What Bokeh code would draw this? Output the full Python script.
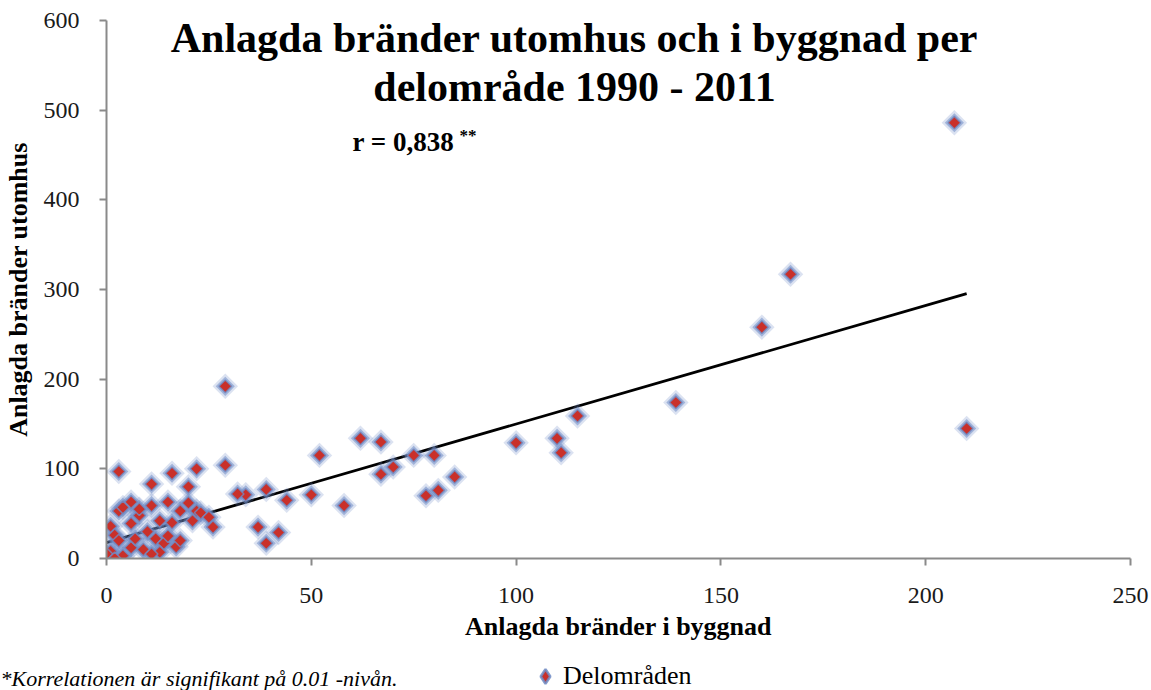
import numpy as np
from bokeh.plotting import figure
from bokeh.layouts import column
from bokeh.models import Range1d, Label, Legend, LegendItem, FixedTicker, Plot
from bokeh.embed import file_html
from bokeh.resources import INLINE

# ---------------- data ----------------
x_building = [207, 210, 167, 160, 139, 115, 100, 110, 111, 85,
              80, 81, 78, 75, 70, 67, 67, 62, 52, 50,
              58, 44, 42, 39, 37, 39, 34, 32, 29, 29,
              22, 16, 3, 11, 20, 26, 15, 18, 22, 20,
              23, 25, 11, 13, 6, 3, 6, 8, 1, 2,
              12, 14, 17, 13, 6, 1, 0, 3, 4, 8,
              10, 15, 18, 9, 4, 2, 11, 21, 7, 16]
y_outdoor = [486, 145, 317, 258, 174, 159, 129, 134, 118, 91,
             115, 76, 70, 115, 102, 130, 94, 134, 115, 71,
             59, 65, 29, 17, 35, 77, 71, 72, 192, 104,
             100, 95, 97, 83, 80, 35, 63, 53, 53, 62,
             51, 46, 59, 42, 63, 53, 39, 48, 36, 26,
             22, 17, 13, 7, 12, 8, 5, 20, 57, 55,
             30, 25, 20, 10, 3, 0, 5, 42, 22, 40]

x_ticks = [0, 50, 100, 150, 200, 250]
y_ticks = [0, 100, 200, 300, 400, 500, 600]

trend_intercept = 17.8
trend_slope = 1.322

title_line1 = "Anlagda bränder utomhus och i byggnad per"
title_line2 = "delområde 1990 - 2011"
r_text = "r = 0,838"
r_sup = "**"
x_label = "Anlagda bränder i byggnad"
y_label = "Anlagda bränder utomhus"
footnote = "*Korrelationen är signifikant på 0.01 -nivån."
series_name = "Delområden"

# ---------------- styling ----------------
SERIF = "Liberation Serif"
AXIS_GREY = "#8a8a8a"
RED = "#c9302a"
BLUE = "#6f8cc6"
W = 1151
HAS_FRAME_ALIGN = "frame_align" in Plot.properties()

p = figure(width=W, height=650,
           x_range=Range1d(0, 250), y_range=Range1d(0, 600),
           output_backend="svg", toolbar_location=None,
           min_border_left=104, min_border_right=21,
           min_border_top=20, min_border_bottom=92)
p.background_fill_color = "white"
p.border_fill_color = "white"
p.outline_line_color = None
p.grid.visible = False

p.axis.axis_line_color = AXIS_GREY
p.axis.axis_line_width = 2
p.axis.major_tick_line_color = AXIS_GREY
p.axis.major_tick_line_width = 2
p.axis.major_tick_out = 7
p.axis.major_tick_in = 0
p.axis.minor_tick_line_color = None
p.axis.major_label_text_font = SERIF
p.axis.major_label_text_font_size = "24px"
p.axis.major_label_text_color = "#1a1a1a"
p.axis.axis_label_text_font = SERIF
p.axis.axis_label_text_font_size = "26px"
p.axis.axis_label_text_font_style = "bold"
p.axis.axis_label_text_color = "black"

p.xaxis.ticker = FixedTicker(ticks=x_ticks)
p.yaxis.ticker = FixedTicker(ticks=y_ticks)
p.xaxis.major_label_standoff = 22
p.yaxis.major_label_standoff = 20
p.xaxis.axis_label = x_label
p.yaxis.axis_label = y_label
p.xaxis.axis_label_standoff = 6
p.yaxis.axis_label_standoff = 8

# trend line (regression line)
xmin, xmax = min(x_building), max(x_building)
tx = [xmin, xmax]
ty = [trend_intercept + trend_slope * v for v in tx]
p.line(tx, ty, line_color="black", line_width=2.8)

# markers: blurred blue halo + red diamond
ang = np.pi / 4
p.scatter(x_building, y_outdoor, marker="square", angle=ang, size=18,
          fill_color=BLUE, fill_alpha=0.25, line_color=None)
p.scatter(x_building, y_outdoor, marker="square", angle=ang, size=13.5,
          fill_color=BLUE, fill_alpha=0.55, line_color=None)
p.scatter(x_building, y_outdoor, marker="square", angle=ang, size=9,
          fill_color=RED, line_color=BLUE, line_width=1.5, line_alpha=0.8)

# titles / annotations (screen units relative to plot frame)
p.add_layout(Label(x=468, y=521, x_units="screen", y_units="screen",
                   text=title_line1, text_font=SERIF, text_font_size="42px",
                   text_font_style="bold", text_align="center",
                   text_baseline="middle", text_color="black"))
p.add_layout(Label(x=468, y=472, x_units="screen", y_units="screen",
                   text=title_line2, text_font=SERIF, text_font_size="42px",
                   text_font_style="bold", text_align="center",
                   text_baseline="middle", text_color="black"))
p.add_layout(Label(x=246, y=417, x_units="screen", y_units="screen",
                   text=r_text, text_font=SERIF, text_font_size="27px",
                   text_font_style="bold", text_align="left",
                   text_baseline="middle", text_color="black"))
p.add_layout(Label(x=353, y=423, x_units="screen", y_units="screen",
                   text=r_sup, text_font=SERIF, text_font_size="17px",
                   text_font_style="bold", text_align="left",
                   text_baseline="middle", text_color="black"))

# ---------------- bottom strip: footnote + legend ----------------
s = figure(width=W, height=40, x_range=Range1d(-3000, -1849),
           y_range=Range1d(-3000, -2960), output_backend="svg",
           toolbar_location=None, x_axis_type=None, y_axis_type=None,
           min_border_left=0, min_border_right=0, min_border_top=0,
           min_border_bottom=0)
if HAS_FRAME_ALIGN:
    s.frame_align = False
    p.frame_align = False
off = 0 if HAS_FRAME_ALIGN else -104
s.outline_line_color = None
s.grid.visible = False
s.background_fill_color = "white"
s.border_fill_color = "white"
# same series, out of this strip's view: used only for the legend key
key = s.scatter(x_building, y_outdoor, marker="diamond", size=9,
                fill_color=RED, line_color=BLUE, line_width=2.5, line_alpha=0.85)
s.add_layout(Label(x=0 + off, y=12, x_units="screen", y_units="screen",
                   text=footnote, text_font=SERIF, text_font_size="22px",
                   text_font_style="italic", text_align="left",
                   text_baseline="middle", text_color="black"))
legend = Legend(items=[LegendItem(label=series_name, renderers=[key])],
                location=(527 + off, -4), orientation="horizontal",
                glyph_width=36, glyph_height=36, label_standoff=0,
                padding=0, margin=0, spacing=0,
                label_text_font=SERIF, label_text_font_size="26px",
                label_text_color="black", label_text_baseline="middle",
                background_fill_alpha=0, border_line_alpha=0)
s.add_layout(legend, "center")

layout = column(p, s, spacing=0)
open("out.html", "w").write(file_html(layout, INLINE))
